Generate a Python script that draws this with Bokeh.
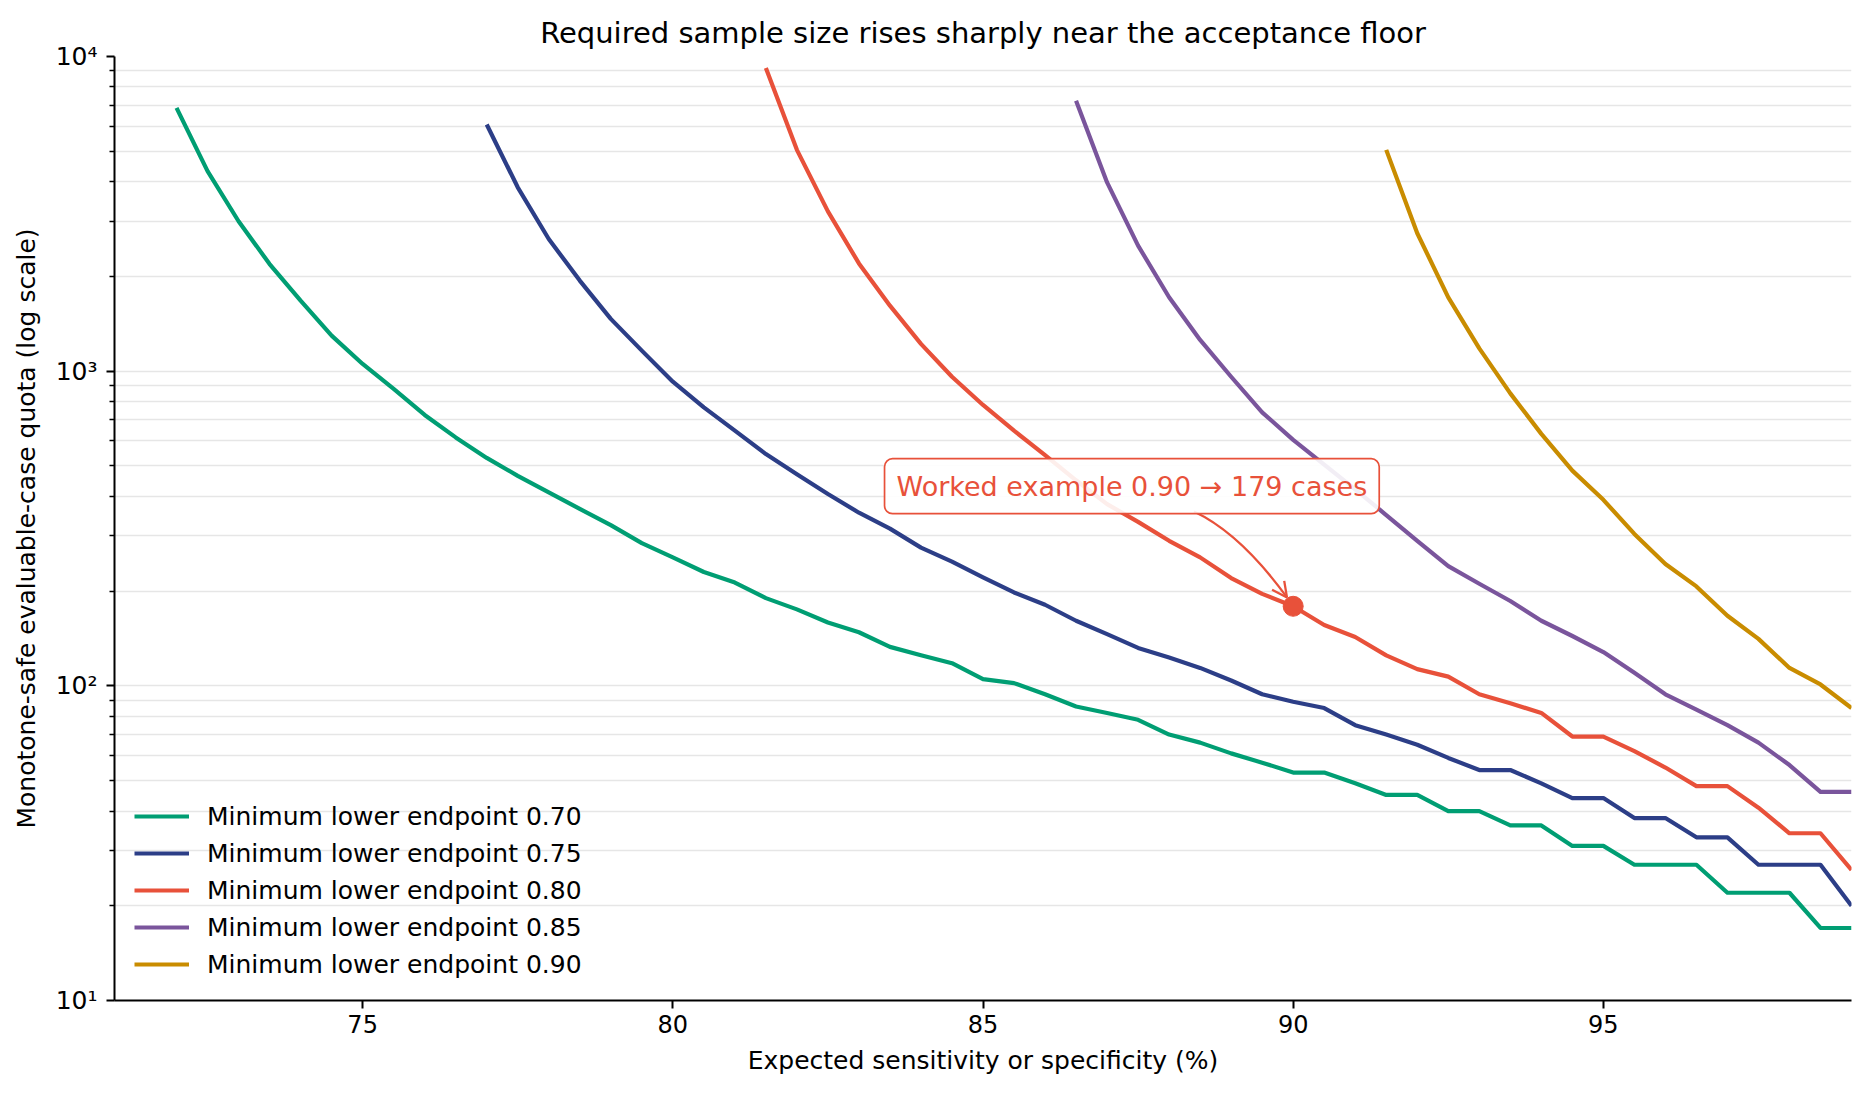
from bokeh.plotting import figure
from bokeh.models import Legend, LegendItem, Label, Arrow, OpenHead, FixedTicker, Range1d
from bokeh.embed import file_html
from bokeh.resources import INLINE

FONT = "DejaVu Sans"

# ---- data ----
sensitivity_pct = [72.0, 72.5, 73.0, 73.5, 74.0, 74.5, 75.0, 75.5, 76.0, 76.5,
                   77.0, 77.5, 78.0, 78.5, 79.0, 79.5, 80.0, 80.5, 81.0, 81.5,
                   82.0, 82.5, 83.0, 83.5, 84.0, 84.5, 85.0, 85.5, 86.0, 86.5,
                   87.0, 87.5, 88.0, 88.5, 89.0, 89.5, 90.0, 90.5, 91.0, 91.5,
                   92.0, 92.5, 93.0, 93.5, 94.0, 94.5, 95.0, 95.5, 96.0, 96.5,
                   97.0, 97.5, 98.0, 98.5, 99.0]

quota_070 = [6870, 4320, 2995, 2190, 1675, 1297, 1054, 878, 726, 616,
             530, 465, 412, 365, 324, 284, 256, 230, 213, 190,
             175, 159, 148, 133, 125, 118, 105, 102, 94, 86,
             82, 78, 70, 66, 61, 57, 53, 53, 49, 45,
             45, 40, 40, 36, 36, 31, 31, 27, 27, 27,
             22, 22, 22, 17, 17]
quota_075 = [6080, 3840, 2630, 1940, 1466, 1162, 926, 767, 647, 545,
             470, 407, 355, 316, 275, 248, 221, 198, 181, 161,
             146, 132, 123, 114, 104, 94, 89, 85, 75, 70,
             65, 59, 54, 54, 49, 44, 44, 38, 38, 33,
             33, 27, 27, 27, 20]
quota_080 = [9200, 5050, 3220, 2200, 1615, 1221, 960, 781, 647, 541,
             450, 378, 332, 289, 256, 220, 196, 179, 156, 143,
             125, 113, 107, 94, 88, 82, 69, 69, 62, 55,
             48, 48, 41, 34, 34, 26]
quota_085 = [7240, 3980, 2506, 1717, 1257, 960, 740, 605, 505, 421,
             349, 289, 240, 211, 186, 161, 144, 128, 110, 94,
             84, 75, 66, 56, 46, 46]
quota_090 = [5050, 2744, 1717, 1182, 850, 632, 483, 390, 304, 244,
             207, 167, 141, 114, 101, 85]

series_labels = ["Minimum lower endpoint 0.70", "Minimum lower endpoint 0.75",
                 "Minimum lower endpoint 0.80", "Minimum lower endpoint 0.85",
                 "Minimum lower endpoint 0.90"]
series_colors = ["#009E73", "#2C3E87", "#E8513A", "#7A559C", "#C98C00"]

x_ticks = [75, 80, 85, 90, 95]
y_ticks = [10, 100, 1000, 10000]
y_tick_labels = {10: "10\u00b9", 100: "10\u00b2", 1000: "10\u00b3", 10000: "10\u2074"}

# worked example annotation
example_sens = 90.0
example_quota = 179
callout_text = "Worked example 0.90 \u2192 179 cases"
callout_at = (87.40, 431)
arrow_tail = (88.40, 358)
arrow_ctrl = (89.15, 305)
arrow_tip = (89.90, 191)

# ---- figure ----
p = figure(width=1861, height=1085,
           x_range=Range1d(71, 99), y_range=Range1d(10, 10000),
           y_axis_type="log", output_backend="svg", toolbar_location=None,
           min_border_left=114, min_border_right=10,
           min_border_top=56, min_border_bottom=85,
           title="Required sample size rises sharply near the acceptance floor")
p.outline_line_color = None
p.background_fill_color = "white"
p.border_fill_color = "white"

p.title.align = "center"
p.title.text_font = FONT
p.title.text_font_size = "29px"
p.title.text_font_style = "normal"
p.title.text_color = "#000000"
p.title.standoff = 14

minor = []
for d in [10, 100, 1000]:
    for m in range(2, 10):
        minor.append(d * m)
yt = FixedTicker(ticks=y_ticks, minor_ticks=minor)
p.yaxis.ticker = yt
p.ygrid.ticker = yt
p.yaxis.major_label_overrides = y_tick_labels
p.xaxis.ticker = FixedTicker(ticks=x_ticks, minor_ticks=[])
p.xgrid.visible = False
p.ygrid.grid_line_color = "#e6e6e6"
p.ygrid.grid_line_width = 1.6
p.ygrid.minor_grid_line_color = "#e6e6e6"
p.ygrid.minor_grid_line_width = 1.6

for ax in (p.xaxis, p.yaxis):
    ax.axis_line_color = "black"
    ax.axis_line_width = 2
    ax.major_tick_line_color = "black"
    ax.major_tick_line_width = 2
    ax.major_tick_out = 8
    ax.major_tick_in = 0
    ax.minor_tick_line_color = "black"
    ax.minor_tick_line_width = 1.5
    ax.minor_tick_out = 5
    ax.minor_tick_in = 0
    ax.major_label_text_font = FONT
    ax.major_label_text_font_size = "24px"
    ax.major_label_text_color = "black"
    ax.axis_label_text_font = FONT
    ax.axis_label_text_font_size = "25px"
    ax.axis_label_text_font_style = "normal"
    ax.axis_label_text_color = "black"

p.yaxis.major_label_text_font_size = "25px"
p.xaxis.axis_label = "Expected sensitivity or specificity (%)"
p.yaxis.axis_label = "Monotone-safe evaluable-case quota (log scale)"
p.xaxis.major_label_standoff = 6
p.xaxis.axis_label_standoff = 10
p.yaxis.major_label_standoff = 9
p.yaxis.axis_label_standoff = 12

all_quotas = [quota_070, quota_075, quota_080, quota_085, quota_090]
items = []
for vals, lab, col in zip(all_quotas, series_labels, series_colors):
    xs = sensitivity_pct[len(sensitivity_pct) - len(vals):]
    r = p.line(xs, vals, line_color=col, line_width=4.2, line_join="round")
    items.append(LegendItem(label=lab, renderers=[r]))

legend = Legend(items=items, location=(20, 21), orientation="vertical",
                background_fill_alpha=0, border_line_alpha=0,
                padding=0, margin=0, spacing=7,
                glyph_width=55, glyph_height=30, label_standoff=18,
                label_text_font=FONT, label_text_font_size="25px",
                label_text_color="black")
p.add_layout(legend)

red = series_colors[2]
p.quadratic(x0=[arrow_tail[0]], y0=[arrow_tail[1]], x1=[arrow_tip[0]], y1=[arrow_tip[1]],
            cx=[arrow_ctrl[0]], cy=[arrow_ctrl[1]], line_color=red, line_width=2.3)
p.add_layout(Arrow(end=OpenHead(size=15, line_color=red, line_width=2.3),
                   x_start=arrow_ctrl[0], y_start=arrow_ctrl[1],
                   x_end=arrow_tip[0], y_end=arrow_tip[1], line_alpha=0))
p.scatter([example_sens], [example_quota], size=20, color=red)

p.add_layout(Label(x=callout_at[0], y=callout_at[1], text=callout_text,
                   text_align="center", text_baseline="middle",
                   text_color=red, text_font=FONT, text_font_size="27px",
                   background_fill_color="white", background_fill_alpha=0.9,
                   border_line_color=red, border_line_width=1.7,
                   padding=12, border_radius=8))

open("out.html", "w").write(file_html(p, INLINE))
